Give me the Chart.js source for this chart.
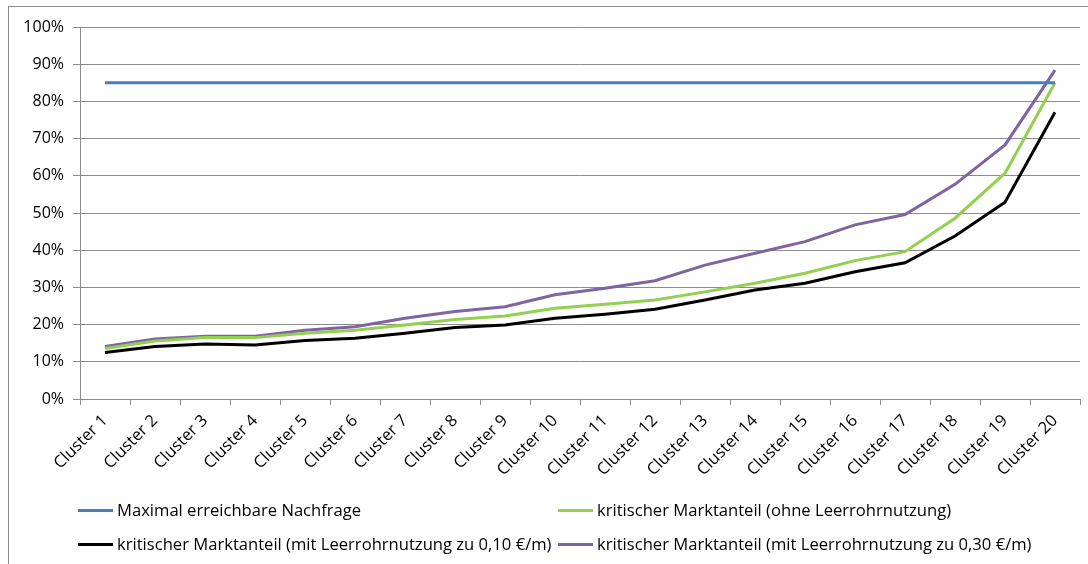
<!DOCTYPE html>
<html>
<head>
<meta charset="utf-8">
<script src="https://cdn.jsdelivr.net/npm/chart.js@4.4.1/dist/chart.umd.min.js"></script>
<style>
  body { margin: 0; background: #fff; }
  #wrap { position: relative; width: 1088px; height: 564px; overflow: hidden; }
  #frame { position: absolute; left: 8px; top: 6px; width: 1090px; height: 570px;
           border-left: 1px solid #8c8c8c; border-top: 1px solid #8c8c8c; }
  canvas { position: absolute; left: 0; top: 0; }
  .leg { position: absolute; font-family: "Open Sans", sans-serif; font-size: 16.6px; color: #000;
         white-space: nowrap; line-height: 20px; }
  .leg span.sw { display: inline-block; width: 35px; height: 3px; vertical-align: middle;
                 margin-right: 4px; position: relative; top: -1px; }
</style>
</head>
<body>
<div id="wrap">
  <div id="frame"></div>
  <canvas id="lineChart" width="1088" height="564"></canvas>
  <div id="legend"></div>
</div>
<script>
  // Werte (in %)
  var clusters = ["Cluster 1", "Cluster 2", "Cluster 3", "Cluster 4", "Cluster 5", "Cluster 6", "Cluster 7",
    "Cluster 8", "Cluster 9", "Cluster 10", "Cluster 11", "Cluster 12", "Cluster 13", "Cluster 14",
    "Cluster 15", "Cluster 16", "Cluster 17", "Cluster 18", "Cluster 19", "Cluster 20"];
  var maxNachfrage = [85, 85, 85, 85, 85, 85, 85, 85, 85, 85, 85, 85, 85, 85, 85, 85, 85, 85, 85, 85];
  var ohneLeerrohr = [13.6, 15.6, 16.5, 16.5, 17.7, 18.5, 19.9, 21.4, 22.3, 24.4, 25.5, 26.6, 28.8, 31.1,
    33.8, 37.2, 39.6, 48.6, 60.7, 85.0];
  var mitLeerrohr010 = [12.5, 14.1, 14.8, 14.5, 15.7, 16.3, 17.7, 19.2, 19.9, 21.7, 22.8, 24.1, 26.6, 29.3,
    31.1, 34.2, 36.6, 43.8, 52.9, 77.1];
  var mitLeerrohr030 = [14.1, 16.1, 16.9, 16.9, 18.5, 19.4, 21.7, 23.5, 24.8, 28.0, 29.8, 31.8, 36.0, 39.2,
    42.3, 46.8, 49.6, 57.7, 68.3, 88.4];
  var yTicks = [0, 10, 20, 30, 40, 50, 60, 70, 80, 90, 100];

  var seriesNames = ["Maximal erreichbare Nachfrage", "kritischer Marktanteil (ohne Leerrohrnutzung)",
    "kritischer Marktanteil (mit Leerrohrnutzung zu 0,10 €/m)", "kritischer Marktanteil (mit Leerrohrnutzung zu 0,30 €/m)"];
  var seriesColors = ["#4a7ebb", "#92d050", "#000000", "#8064a2"];
  var seriesData = [maxNachfrage, ohneLeerrohr, mitLeerrohr010, mitLeerrohr030];

  var gridGrey = '#8c8c8c';
  var ctx = document.getElementById("lineChart");
  var lineChart = new Chart(ctx, {
    type: 'line',
    data: {
      labels: clusters,
      datasets: seriesData.map(function (d, i) {
        return {
          label: seriesNames[i],
          data: d,
          borderColor: seriesColors[i],
          backgroundColor: seriesColors[i],
          borderWidth: 3,
          pointRadius: 0,
          tension: 0,
          fill: false
        };
      })
    },
    options: {
      responsive: false,
      animation: false,
      layout: { padding: { left: 0, top: 27, right: 8, bottom: 0 } },
      plugins: { legend: { display: false }, tooltip: { enabled: false } },
      scales: {
        x: {
          offset: true,
          grid: { offset: true, drawOnChartArea: false, drawTicks: true, tickLength: 6, color: gridGrey },
          border: { color: gridGrey },
          ticks: {
            autoSkip: false, maxRotation: 45, minRotation: 45, padding: 6, color: '#000',
            font: { family: 'Open Sans', size: 16.5 }
          },
          afterFit: function (s) { s.height = 165; }
        },
        y: {
          min: 0, max: 100,
          afterBuildTicks: function (s) { s.ticks = yTicks.map(function (v) { return { value: v }; }); },
          grid: { color: gridGrey, tickLength: 7 },
          border: { color: gridGrey },
          ticks: {
            padding: 9, color: '#000',
            font: { family: 'Open Sans', size: 16 },
            callback: function (v) { return v + '%'; }
          },
          afterFit: function (s) { s.width = 80; }
        }
      }
    }
  });

  // Legende wie im Original (2 Spalten)
  var legPos = [[78, 500], [558, 500], [78, 534], [558, 534]];
  var legend = document.getElementById("legend");
  seriesNames.forEach(function (n, i) {
    var d = document.createElement('div');
    d.className = 'leg';
    d.style.left = legPos[i][0] + 'px';
    d.style.top = legPos[i][1] + 'px';
    d.innerHTML = '<span class="sw" style="background:' + seriesColors[i] + '"></span>' + n;
    legend.appendChild(d);
  });
</script>
</body>
</html>
